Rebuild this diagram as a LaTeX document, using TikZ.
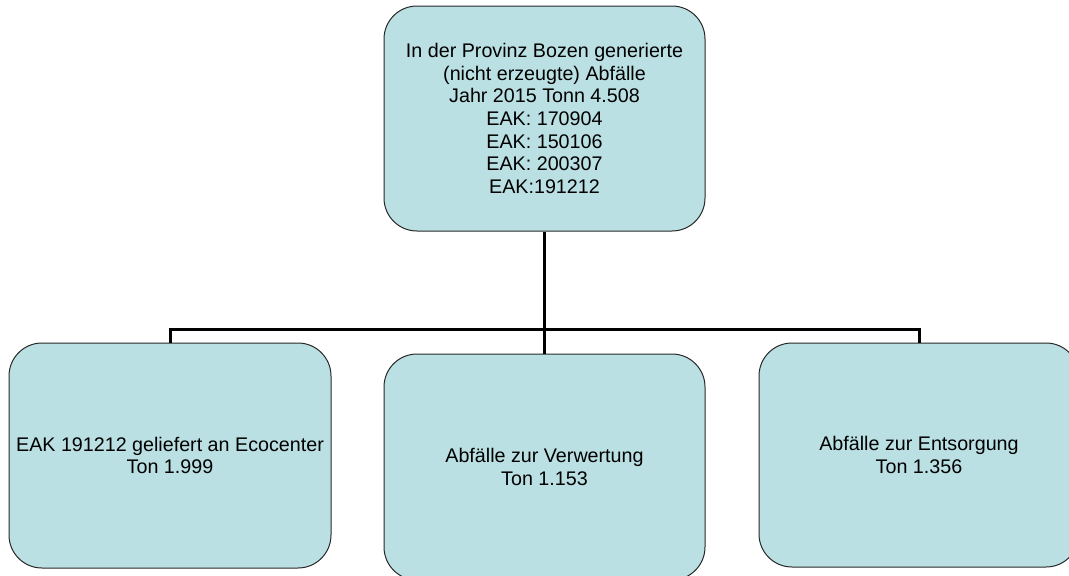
\documentclass[tikz,border=0pt]{standalone}
\usepackage{fontspec}
\setmainfont{Liberation Sans}
\definecolor{boxfill}{RGB}{187,224,227}
\definecolor{boxline}{RGB}{40,40,40}
\begin{document}
\begin{tikzpicture}[x=1pt,y=-1pt,
  wastebox/.style={draw=boxline, line width=1pt, fill=boxfill, rounded corners=33pt,
    align=center, inner sep=0pt, font=\fontsize{19.7}{22.7}\selectfont},
  link/.style={line width=3pt, black}]
  \useasboundingbox (0,0) rectangle (1069,576);
  % parent box
  \node[wastebox, minimum width=321pt, minimum height=225pt] (top) at (544.5,118.5)
    {In der Provinz Bozen generierte\\(nicht erzeugte) Abfälle\\Jahr 2015 Tonn 4.508\\EAK: 170904\\EAK: 150106\\EAK: 200307\\EAK:191212};
  % child boxes
  \node[wastebox, minimum width=322pt, minimum height=225pt] (left) at (170,455.5)
    {EAK 191212 geliefert an Ecocenter\\Ton 1.999};
  \node[wastebox, minimum width=321pt, minimum height=226pt] (mid) at (544.5,467)
    {Abfälle zur Verwertung\\Ton 1.153};
  \node[wastebox, minimum width=320pt, minimum height=224pt] (right) at (919,455)
    {Abfälle zur Entsorgung\\Ton 1.356};
  % tree connectors
  \coordinate (bus) at (544.5,329);
  \draw[link] (top.south) -- (bus);
  \draw[link] (left.north) |- (bus) -| (right.north);
  \draw[link] (bus) -- (mid.north);
\end{tikzpicture}
\end{document}
